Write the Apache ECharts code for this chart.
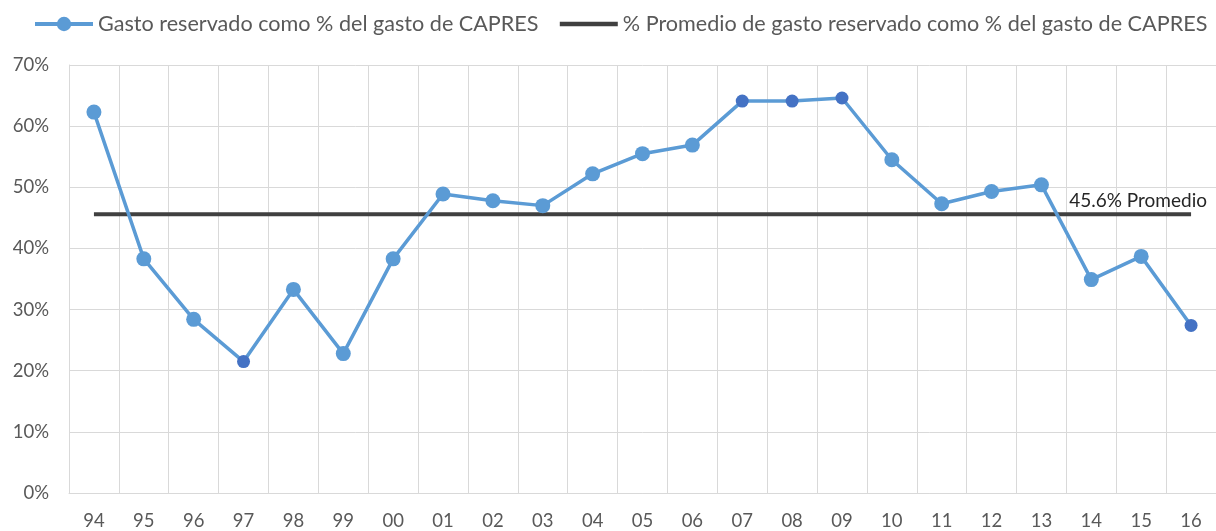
<!DOCTYPE html>
<html>
<head>
<meta charset="utf-8">
<script src="https://cdn.jsdelivr.net/npm/echarts@6/dist/echarts.min.js"></script>
<style>html,body{margin:0;padding:0;background:#fff}#c{width:1216px;height:531px}</style>
</head>
<body>
<div id="c"></div>
<script>
const categories = ['94','95','96','97','98','99','00','01','02','03','04','05','06','07','08','09','10','11','12','13','14','15','16'];
const gastoReservado = [62.3,38.3,28.4,21.5,33.3,22.8,38.3,48.9,47.8,47.0,52.2,55.5,56.9,64.1,64.1,64.6,54.5,47.3,49.3,50.4,34.9,38.7,27.4];
const promedio = 45.6;
const highlighted = ['97','07','08','09','16'];
const yTicks = [0,10,20,30,40,50,60,70];

const seriesName1 = 'Gasto reservado como % del gasto de CAPRES';
const seriesName2 = '% Promedio de gasto reservado como % del gasto de CAPRES';

const FONT = 'Lato, "Open Sans", sans-serif';

const data1 = gastoReservado.map((v, i) => highlighted.includes(categories[i])
  ? {value: v, symbolSize: 13, itemStyle: {color: '#4472C4'}}
  : {value: v});
const data2 = categories.map(() => promedio);

const chart = echarts.init(document.getElementById('c'), null, {renderer: 'canvas'});
chart.setOption({
  animation: false,
  backgroundColor: '#ffffff',
  textStyle: {fontFamily: FONT},
  legend: {
    left: 28, top: 8, width: 1200,
    itemWidth: 58, itemHeight: 18, itemGap: 19,
    textStyle: {color: '#595959', fontSize: 21.6, fontFamily: FONT},
    data: [
      {name: seriesName1, lineStyle: {width: 4, color: '#5B9BD5'}},
      {name: seriesName2, lineStyle: {width: 4.5, color: '#404040'}, itemStyle: {opacity: 0}}
    ]
  },
  grid: {left: 69, right: -3, top: 65, bottom: 37, containLabel: false},
  xAxis: {
    type: 'category',
    data: categories,
    boundaryGap: true,
    axisLine: {show: true, lineStyle: {color: '#D9D9D9', width: 1}},
    axisTick: {show: false},
    splitLine: {show: true, lineStyle: {color: '#D9D9D9', width: 1}},
    axisLabel: {color: '#595959', fontSize: 18.5, fontFamily: FONT, margin: 19, interval: 0}
  },
  yAxis: {
    type: 'value',
    min: 0, max: 70, interval: 10,
    axisLine: {show: true, lineStyle: {color: '#D9D9D9'}},
    axisTick: {show: false},
    splitLine: {show: true, lineStyle: {color: '#D9D9D9', width: 1}},
    axisLabel: {color: '#595959', fontSize: 18.5, fontFamily: FONT, margin: 20,
      formatter: v => yTicks.includes(v) ? v + '%' : ''}
  },
  series: [
    {
      name: seriesName1,
      type: 'line',
      data: data1,
      symbol: 'circle',
      symbolSize: 15,
      z: 3,
      lineStyle: {color: '#5B9BD5', width: 3.5},
      itemStyle: {color: '#5B9BD5', borderWidth: 0}
    },
    {
      name: seriesName2,
      type: 'line',
      data: data2,
      symbol: 'none',
      z: 2,
      lineStyle: {color: '#404040', width: 4},
      itemStyle: {color: '#404040'},
      markPoint: {
        symbol: 'circle',
        symbolSize: 0,
        silent: true,
        data: [{coord: [categories[categories.length - 1], promedio]}],
        label: {
          show: true, position: 'top', distance: 4, offset: [-53, 0],
          formatter: promedio.toFixed(1) + '% Promedio',
          color: '#262626', fontSize: 19, fontFamily: FONT
        }
      }
    }
  ]
});
</script>
</body>
</html>
